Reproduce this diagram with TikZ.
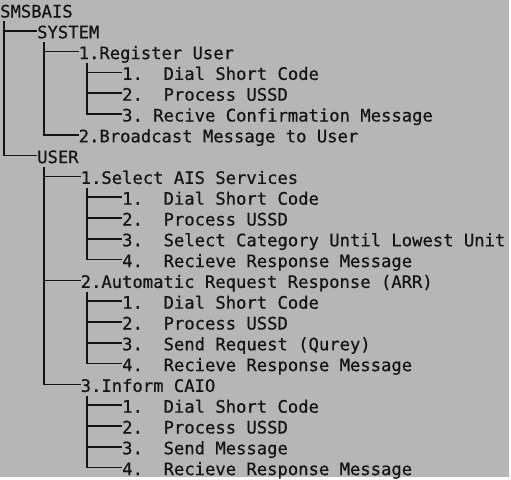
\documentclass[tikz,border=0pt]{standalone}
\usepackage{fontspec}
\newfontfamily\tmono[FakeBold=0.5]{DejaVu Sans Mono}
\definecolor{bg}{HTML}{B6B6B6}
\definecolor{ink}{HTML}{141414}
\begin{document}
\begin{tikzpicture}[x=1pt,y=1pt,
  lbl/.style={anchor=base west, inner sep=0pt, text height=15pt, text depth=0pt, text=ink,
    font=\tmono\fontsize{17.2}{20}\selectfont\frenchspacing},
  br/.style={draw=ink, line width=1.5pt}]
\useasboundingbox (0,0) rectangle (511,-479);
\fill[white] (0,0) rectangle (511,-479);
\fill[bg] (0,0) rectangle (509,-477);
% text nodes
\node[lbl] (root) at (0,-17.5) {SMSBAIS};
\node[lbl] (sys) at (37,-38.3) {SYSTEM};
\node[lbl] (reg) at (78.5,-59.1) {1.Register User};
\node[lbl] (r1) at (122,-79.9) {1.~ Dial Short Code};
\node[lbl] (r2) at (122,-100.7) {2.~ Process USSD};
\node[lbl] (r3) at (122,-121.5) {3. Recive Confirmation Message};
\node[lbl] (brd) at (78.5,-142.3) {2.Broadcast Message to User};
\node[lbl] (usr) at (37,-163.1) {USER};
\node[lbl] (sel) at (80.5,-183.9) {1.Select AIS Services};
\node[lbl] (s1) at (122,-204.7) {1.~ Dial Short Code};
\node[lbl] (s2) at (122,-225.5) {2.~ Process USSD};
\node[lbl] (s3) at (122,-246.3) {3.~ Select Category Until Lowest Unit};
\node[lbl] (s4) at (122,-267.1) {4.~ Recieve Response Message};
\node[lbl] (arr) at (80.5,-287.9) {2.Automatic Request Response (ARR)};
\node[lbl] (a1) at (122,-308.7) {1.~ Dial Short Code};
\node[lbl] (a2) at (122,-329.5) {2.~ Process USSD};
\node[lbl] (a3) at (122,-350.3) {3.~ Send Request (Qurey)};
\node[lbl] (a4) at (122,-371.1) {4.~ Recieve Response Message};
\node[lbl] (inf) at (80.5,-391.9) {3.Inform CAIO};
\node[lbl] (i1) at (122,-412.7) {1.~ Dial Short Code};
\node[lbl] (i2) at (122,-433.5) {2.~ Process USSD};
\node[lbl] (i3) at (122,-454.3) {3.~ Send Message};
\node[lbl] (i4) at (122,-475.1) {4.~ Recieve Response Message};
% trunk tops
\coordinate (t0) at (4,-21);
\coordinate (t1) at (44,-42);
\coordinate (t2) at (87,-63);
\coordinate (t3) at (44,-167);
\coordinate (t4) at (87,-188);
\coordinate (t5) at (87,-292);
\coordinate (t6) at (87,-396);
% branches
\draw[br] (t0) |- (sys.west);
\draw[br] (t0) |- (usr.west);
\draw[br] (t1) |- (reg.west);
\draw[br] (t1) |- (brd.west);
\draw[br] (t2) |- (r1.west);
\draw[br] (t2) |- (r2.west);
\draw[br] (t2) |- (r3.west);
\draw[br] (t3) |- (sel.west);
\draw[br] (t3) |- (arr.west);
\draw[br] (t3) |- (inf.west);
\draw[br] (t4) |- (s1.west);
\draw[br] (t4) |- (s2.west);
\draw[br] (t4) |- (s3.west);
\draw[br] (t4) |- (s4.west);
\draw[br] (t5) |- (a1.west);
\draw[br] (t5) |- (a2.west);
\draw[br] (t5) |- (a3.west);
\draw[br] (t5) |- (a4.west);
\draw[br] (t6) |- (i1.west);
\draw[br] (t6) |- (i2.west);
\draw[br] (t6) |- (i3.west);
\draw[br] (t6) |- (i4.west);
\end{tikzpicture}
\end{document}
